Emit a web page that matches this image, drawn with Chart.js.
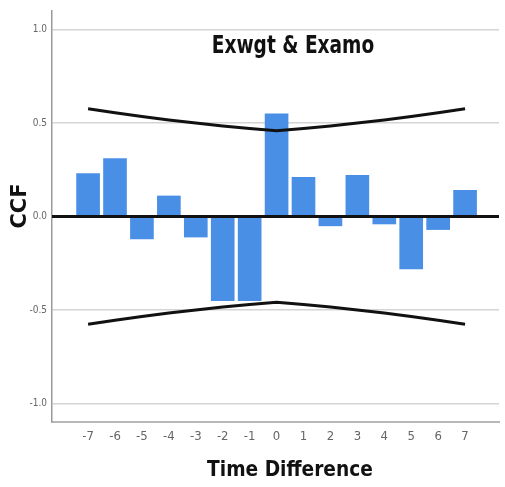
<!DOCTYPE html>
<html>
<head>
<meta charset="utf-8">
<script src="https://cdn.jsdelivr.net/npm/chart.js@4"></script>
<style>
  html, body { margin: 0; padding: 0; background: #fff; }
  #wrap { width: 505px; height: 487px; }
</style>
</head>
<body>
<div id="wrap"><canvas id="ccfChart"></canvas></div>
<script>
// lags and cross-correlation values
const lags = [-7, -6, -5, -4, -3, -2, -1, 0, 1, 2, 3, 4, 5, 6, 7];
const ccf = [0.23, 0.31, -0.12, 0.11, -0.11, -0.45, -0.45, 0.55, 0.21, -0.05, 0.22, -0.04, -0.28, -0.07, 0.14];
const upperLimit = [0.577, 0.555, 0.535, 0.516, 0.500, 0.485, 0.471, 0.459, 0.471, 0.485, 0.500, 0.516, 0.535, 0.555, 0.577];
const lowerLimit = [-0.577, -0.555, -0.535, -0.516, -0.500, -0.485, -0.471, -0.459, -0.471, -0.485, -0.500, -0.516, -0.535, -0.555, -0.577];
const yTicks = [-1, -0.5, 0, 0.5, 1];

const chartTitle = 'Exwgt & Examo';
const xTitle = 'Time Difference';
const yTitle = 'CCF';

const toPoints = vals => lags.map((x, i) => ({ x: x, y: vals[i] }));

// draw text squeezed a bit sideways (the original uses a narrow face)
function narrowText(ctx, text, x, y, squeeze) {
    ctx.save();
    ctx.translate(x, y);
    ctx.scale(squeeze, 1);
    ctx.fillText(text, 0, 0);
    ctx.restore();
}

// zero line on top of the bars, plus the three titles
const extras = {
    id: 'extras',
    afterDatasetsDraw(chart) {
        const { ctx, chartArea, scales } = chart;
        const y0 = scales.y.getPixelForValue(0);
        ctx.save();
        ctx.strokeStyle = '#111';
        ctx.lineWidth = 3;
        ctx.beginPath();
        ctx.moveTo(chartArea.left, y0);
        ctx.lineTo(chartArea.right, y0);
        ctx.stroke();
        ctx.restore();
    },
    afterDraw(chart) {
        const { ctx, chartArea } = chart;
        ctx.save();
        ctx.fillStyle = '#111';
        ctx.textAlign = 'center';
        ctx.textBaseline = 'middle';

        ctx.font = 'bold 24px "DejaVu Sans Condensed", sans-serif';
        narrowText(ctx, chartTitle, chartArea.left + 241, 47, 0.86);

        ctx.font = 'bold 22px "DejaVu Sans Condensed", sans-serif';
        narrowText(ctx, xTitle, chartArea.left + 238, 470, 0.94);

        ctx.translate(21, 206);
        ctx.rotate(-Math.PI / 2);
        ctx.font = 'bold 21px "DejaVu Sans", sans-serif';
        ctx.fillText(yTitle, 0, 0);
        ctx.restore();
    }
};

new Chart(document.getElementById('ccfChart'), {
    type: 'bar',
    data: {
        datasets: [
            {
                type: 'line',
                label: 'Upper',
                data: toPoints(upperLimit),
                borderColor: '#111',
                borderWidth: 3,
                pointRadius: 0,
                fill: false,
                order: 0
            },
            {
                type: 'line',
                label: 'Lower',
                data: toPoints(lowerLimit),
                borderColor: '#111',
                borderWidth: 3,
                pointRadius: 0,
                fill: false,
                order: 0
            },
            {
                label: 'CCF',
                data: toPoints(ccf),
                backgroundColor: '#4a8fe6',
                borderWidth: 0,
                barThickness: 23,
                order: 1
            }
        ]
    },
    options: {
        responsive: true,
        maintainAspectRatio: false,
        animation: false,
        layout: { padding: { top: 5, right: 6, left: 0, bottom: 0 } },
        plugins: {
            legend: { display: false },
            tooltip: { enabled: false }
        },
        scales: {
            x: {
                type: 'linear',
                min: -8.34,
                max: 8.26,
                offset: false,
                afterBuildTicks: s => { s.ticks = lags.map(v => ({ value: v })); },
                afterFit: s => { s.height = 65; },
                grid: { display: false, offset: false, drawTicks: false },
                border: { display: true, color: '#b8b8b8', width: 2 },
                ticks: {
                    padding: 7,
                    color: '#666',
                    autoSkip: false,
                    maxRotation: 0,
                    font: { family: '"Liberation Sans Narrow", "DejaVu Sans Condensed", sans-serif', size: 13 },
                    callback: v => String(v)
                }
            },
            y: {
                min: -1.1,
                max: 1.1,
                afterBuildTicks: s => { s.ticks = yTicks.map(v => ({ value: v })); },
                afterFit: s => { s.width = 52; },
                grid: {
                    color: c => c.tick && c.tick.value === 0 ? 'rgba(0,0,0,0)' : '#d4d4d4',
                    lineWidth: 1.5,
                    drawTicks: false
                },
                border: { color: '#9a9a9a', width: 1.5 },
                ticks: {
                    padding: 5,
                    color: '#666',
                    font: { family: '"Liberation Sans Narrow", "DejaVu Sans Condensed", sans-serif', size: 10 },
                    callback: v => Number(v).toFixed(1)
                }
            }
        }
    },
    plugins: [extras]
});
</script>
</body>
</html>
